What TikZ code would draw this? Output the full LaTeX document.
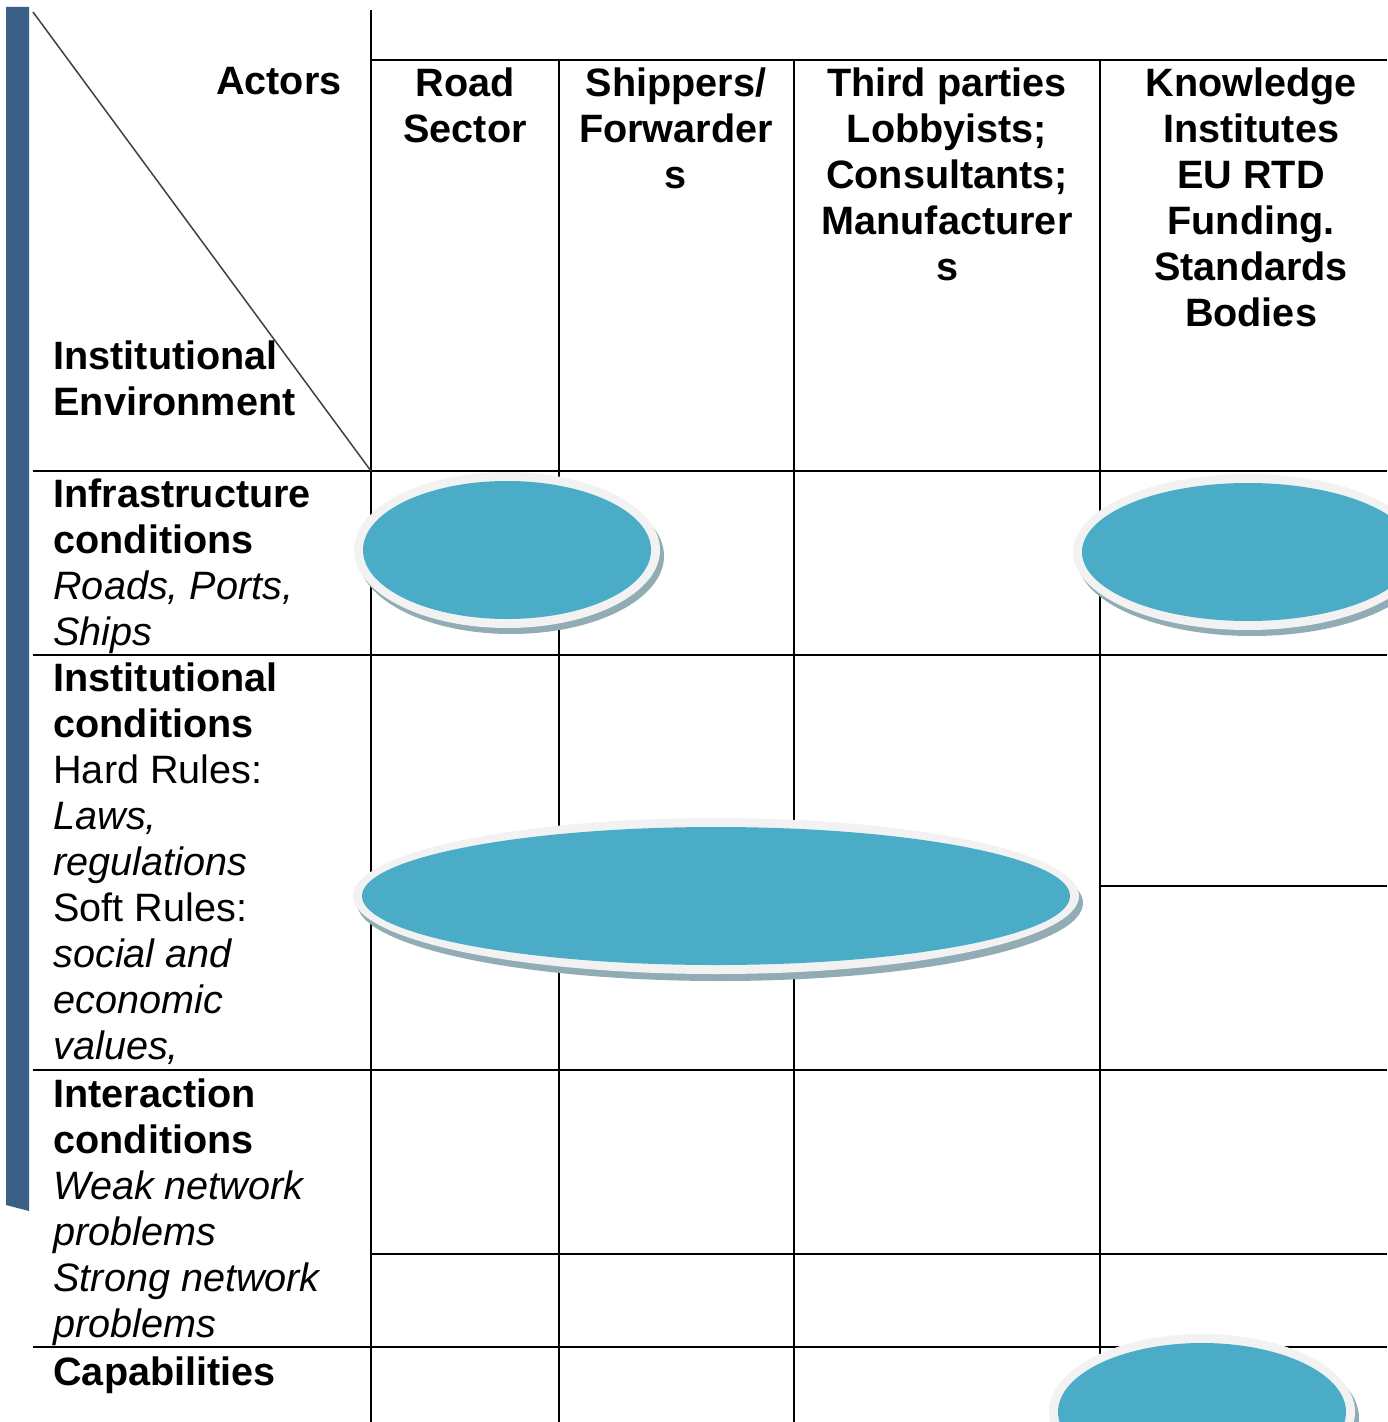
\documentclass[tikz,border=0pt]{standalone}
\usepackage{fontspec}
\setmainfont{Liberation Sans}
\usepackage{xcolor}
\definecolor{barblue}{RGB}{60,95,135}
\definecolor{blobblue}{RGB}{74,172,198}
\definecolor{blobrim}{RGB}{242,242,242}
\definecolor{blobshade}{RGB}{145,172,180}

\begin{document}
\begin{tikzpicture}[x=0.5pt,y=-0.5pt,
    every node/.style={inner sep=0pt,font=\fontsize{19.8pt}{23pt}\selectfont},
    head/.style={anchor=north,align=center,font=\fontsize{19.8pt}{23pt}\selectfont\bfseries},
    rowlabel/.style={anchor=north west,align=left}]
            \useasboundingbox (0,0) rectangle (1387,1422);
            \fill[barblue] (6,7) -- (29,7) -- (29,1211) -- (6,1205) -- cycle;

            % grid
            \draw[line width=1pt] (371,10) -- (371,1422);
            \draw[line width=1pt] (371,60) -- (1387,60);
            \draw[line width=1pt] (559,60) -- (559,1422);
            \draw[line width=1pt] (794,60) -- (794,1422);
            \draw[line width=1pt] (1100,60) -- (1100,1422);
            \draw[line width=1pt] (33,471) -- (1387,471);
            \draw[line width=1pt] (33,655) -- (1387,655);
            \draw[line width=1pt] (1100,886) -- (1387,886);
            \draw[line width=1pt] (33,1070) -- (1387,1070);
            \draw[line width=1pt] (371,1254) -- (1387,1254);
            \draw[line width=1pt] (33,1347) -- (1387,1347);
            \draw[line width=0.75pt, black!75] (33,12) -- (371,471);

            % blobs
            \fill[blobshade] (511,556) ellipse [x radius=153, y radius=78];
            \fill[blobrim] (507,550) ellipse [x radius=153, y radius=78];
            \fill[blobblue] (507,550) ellipse [x radius=144, y radius=69];

            \fill[blobshade] (1252,558) ellipse [x radius=175, y radius=78];
            \fill[blobrim] (1248,552) ellipse [x radius=175, y radius=78];
            \fill[blobblue] (1248,552) ellipse [x radius=166, y radius=69];

            \fill[blobshade] (720,903) ellipse [x radius=363, y radius=78];
            \fill[blobrim] (716,896) ellipse [x radius=363, y radius=78];
            \fill[blobblue] (716,896) ellipse [x radius=354, y radius=69];

            \fill[blobshade] (1206,1418) ellipse [x radius=153, y radius=78];
            \fill[blobrim] (1202,1412) ellipse [x radius=153, y radius=78];
            \fill[blobblue] (1202,1412) ellipse [x radius=144, y radius=69];

            % headers
            \node[head, anchor=north east] (actors) at (342,67) {Actors};
            \node[head] (road) at (465,67) {Road\\Sector};
            \node[head] (shippers) at (676,67) {Shippers/\\Forwarder\\s};
            \node[head] (third) at (947,67) {Third parties\\Lobbyists;\\Consultants;\\Manufacturer\\s};
            \node[head] (knowledge) at (1251,67) {Knowledge\\Institutes\\EU RTD\\Funding.\\Standards\\Bodies};

            % rows
            \node[rowlabel, font=\fontsize{19.8pt}{23pt}\selectfont\bfseries] (envir) at (53,340) {Institutional\\Environment};
            \node[rowlabel] (infra) at (53,478) {\textbf{Infrastructure}\\\textbf{conditions}\\\textit{Roads, Ports,}\\\textit{Ships}};
            \node[rowlabel] (instit) at (53,662) {\textbf{Institutional}\\\textbf{conditions}\\Hard Rules:\\\textit{Laws,}\\\textit{regulations}\\Soft Rules:\\\textit{social and}\\\textit{economic}\\\textit{values,}};
            \node[rowlabel] (interact) at (53,1078) {\textbf{Interaction}\\\textbf{conditions}\\\textit{Weak network}\\\textit{problems}\\\textit{Strong network}\\\textit{problems}};
            \node[rowlabel, font=\fontsize{19.8pt}{23pt}\selectfont\bfseries] (capab) at (53,1356) {Capabilities};
        \end{tikzpicture}
\end{document}
